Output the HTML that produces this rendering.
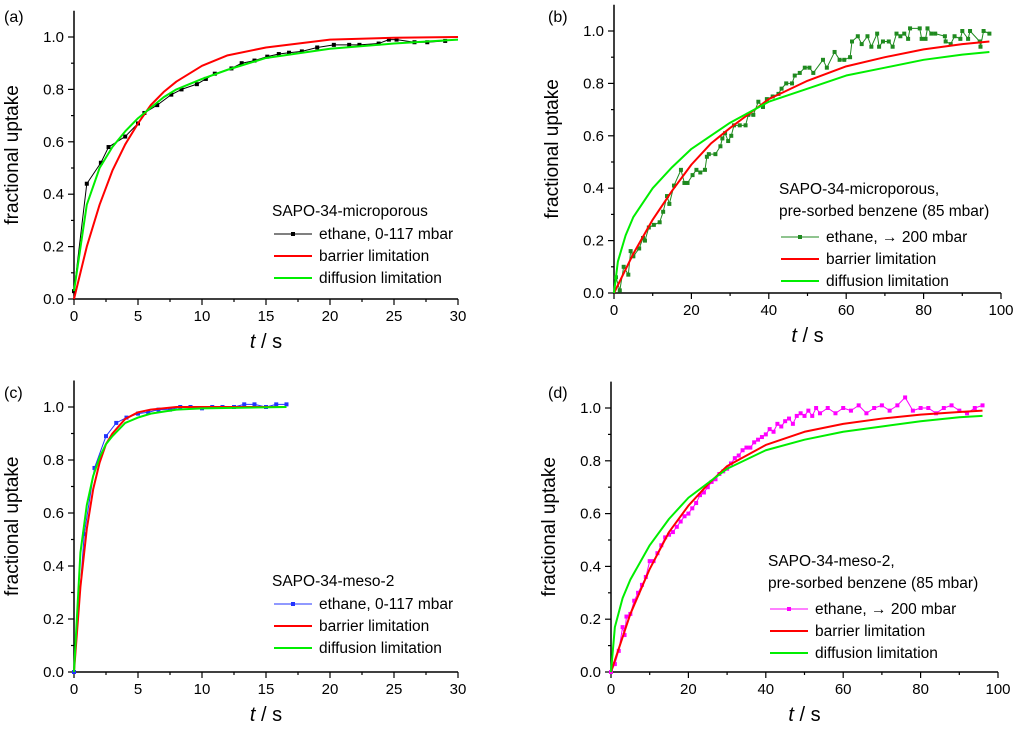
<!DOCTYPE html>
<html><head><meta charset="utf-8"><style>
body{margin:0;background:#fff;width:1024px;height:734px;overflow:hidden}
svg{font-family:"Liberation Sans",Arial,sans-serif}
</style></head><body>
<svg id="fig" width="1024" height="734" viewBox="0 0 1024 734" xmlns="http://www.w3.org/2000/svg"></svg>
<script>
// Panel (a)
const aDataT=[0,1,2.1,2.7,4,5,5.5,6.5,7.6,8.4,9.6,10.3,11,12.3,13.1,14.1,15.1,16,16.8,17.8,19,20.3,21.5,22.3,23.8,24.6,25.2,26.6,27.6,29];
const aDataY=[0.03,0.44,0.52,0.58,0.62,0.67,0.71,0.74,0.78,0.80,0.82,0.84,0.86,0.88,0.90,0.91,0.925,0.935,0.94,0.945,0.96,0.97,0.97,0.97,0.975,0.99,0.99,0.98,0.98,0.985];
const aFitT=[0,1,2,3,4,5,6,7,8,10,12,15,20,25,30];
const aRedY=[0,0.20,0.36,0.49,0.59,0.67,0.74,0.79,0.83,0.89,0.93,0.96,0.99,0.997,1.0];
const aGreenY=[0.03,0.36,0.50,0.58,0.64,0.69,0.73,0.77,0.80,0.84,0.875,0.92,0.955,0.975,0.99];
// Panel (b)
const bDataT=[0.5,1.5,2.5,3.7,4.3,5,6.5,7.5,8,9,10.3,11.8,12.7,13.7,14.3,15.5,17.3,18.2,19,20.3,21.3,22.3,23.5,24,24.5,26.2,27.5,28,28.7,29.5,30.3,31,32.5,34,34.7,36,37.3,38.5,39.5,41,42.5,43.3,44.5,46,46.7,48,49.3,50.5,51.5,54,55,57,58.3,59.5,61,61.5,63,64,65.5,66.5,68,68.5,69.5,71,72,73,74,75,76,76.5,79,79.5,80.5,81,82,83,85.5,85.7,87,88,89.5,90,91.5,92,94.5,94.7,95.5,97];
const bDataY=[0.06,0.01,0.1,0.07,0.16,0.14,0.17,0.21,0.2,0.25,0.26,0.27,0.31,0.37,0.34,0.41,0.47,0.42,0.42,0.45,0.47,0.46,0.47,0.52,0.53,0.53,0.56,0.59,0.61,0.58,0.6,0.64,0.64,0.64,0.68,0.68,0.73,0.71,0.74,0.75,0.76,0.78,0.8,0.8,0.83,0.84,0.86,0.86,0.84,0.89,0.86,0.92,0.89,0.89,0.9,0.96,0.98,0.95,0.98,0.94,0.99,0.94,0.96,0.96,0.94,0.99,0.98,0.99,0.97,1.01,1.01,0.97,0.97,1.01,0.99,0.99,0.98,0.96,0.95,0.98,0.97,1.0,0.97,1.0,0.96,0.94,1.0,0.99];
const bRedT=[0,5,10,15,20,25,30,40,50,60,70,80,90,97];
const bRedY=[0,0.15,0.28,0.39,0.49,0.57,0.63,0.74,0.81,0.865,0.90,0.93,0.95,0.96];
const bGreenT=[0,1,3,5,10,15,20,30,40,50,60,70,80,90,97];
const bGreenY=[0,0.12,0.22,0.29,0.40,0.48,0.55,0.65,0.73,0.78,0.83,0.86,0.89,0.91,0.92];
// Panel (c)
const cDataT=[0,0.8,1.6,2.5,3.3,4.1,5,5.8,6.6,7.5,8.3,9.1,10,10.8,11.6,12.5,13.3,14.1,15,15.8,16.6];
const cDataY=[0,0.52,0.77,0.89,0.94,0.96,0.975,0.98,0.99,0.99,1.0,1.0,0.995,1.0,1.0,1.0,1.01,1.01,1.0,1.01,1.01];
const cFitT=[0,0.5,1,1.5,2,2.5,3,4,5,6,8,10,16.6];
const cRedY=[0,0.32,0.54,0.69,0.79,0.86,0.90,0.955,0.98,0.99,1,1,1];
const cGreenY=[0,0.45,0.63,0.74,0.81,0.86,0.89,0.94,0.96,0.975,0.99,0.995,1.0];
// Panel (d)
const dDataT=[0,1,2,3,3.5,4,5,6,7,8,9,10,11,12,13,14,15,16,17,18,19,20,21,22,23,24,25,26,27,28,29,30,31,32,33,34,35,36,37,38,39,40,41,42,43,44,45,46,47,48,49,50,51,52,53,54,56,58,60,62,64,66,68,70,72,74,76,78,80,82,84,86,88,90,92,94,96];
const dDataY=[0,0.03,0.08,0.17,0.14,0.21,0.22,0.27,0.3,0.33,0.36,0.42,0.42,0.45,0.48,0.51,0.52,0.53,0.55,0.57,0.59,0.6,0.62,0.64,0.67,0.68,0.7,0.72,0.73,0.75,0.76,0.77,0.79,0.81,0.82,0.84,0.85,0.85,0.87,0.88,0.89,0.9,0.92,0.91,0.94,0.93,0.95,0.96,0.94,0.97,0.98,0.97,0.99,0.97,1.0,0.98,1.0,0.98,1.0,0.99,1.01,0.98,1.0,1.01,0.99,1.01,1.04,0.99,1.0,1.0,0.98,1.0,1.01,0.99,0.98,1.0,1.01];
const dRedT=[0,5,10,15,20,25,30,40,50,60,70,80,90,96];
const dRedY=[0,0.22,0.39,0.53,0.63,0.71,0.78,0.86,0.91,0.94,0.96,0.975,0.985,0.99];
const dGreenT=[0,1,3,5,10,15,20,30,40,50,60,70,80,90,96];
const dGreenY=[0,0.17,0.28,0.35,0.48,0.58,0.66,0.77,0.84,0.88,0.91,0.93,0.95,0.965,0.97];
const yTicks=["0.0","0.2","0.4","0.6","0.8","1.0"];
const xTicksA=["0","5","10","15","20","25","30"];
const xTicksB=["0","20","40","60","80","100"];

const NS="http://www.w3.org/2000/svg";
const svg=document.getElementById('fig');
function mk(tag,attrs,parent){const e=document.createElementNS(NS,tag);for(const k in attrs)e.setAttribute(k,attrs[k]);(parent||svg).appendChild(e);return e;}

function panel(p){
  const g=mk('g',{});
  
  
  const X=v=>p.x0+(v-0)/(p.xmax)*(p.x1-p.x0);
  const Y=v=>p.y0-(v)*(p.y0-p.y1);
  const top=Y(1.1);
  const ax=mk('path',{d:`M${p.x0},${top}V${p.y0}H${p.x1}`,fill:'none',stroke:'#000','stroke-width':1.5},g);
  
  
  for(let i=0;i<=10;i++){const v=i*0.1;const y=Y(v);mk('line',{x1:p.x0,x2:p.x0-(i%2?3:6),y1:y,y2:y,stroke:'#000','stroke-width':1.2},g);}
  yTicks.forEach((t,i)=>{const tx=mk('text',{x:p.x0-10,y:Y(i*0.2)+5,'text-anchor':'end','font-size':15},g);tx.textContent=t;
    
    });
  const n=p.xt.length-1;
  for(let i=0;i<=2*n;i++){const x=X(i*p.xmax/(2*n));mk('line',{x1:x,x2:x,y1:p.y0,y2:p.y0+(i%2?3:6),stroke:'#000','stroke-width':1.2},g);}
  p.xt.forEach((t,i)=>{const tx=mk('text',{x:X(i*p.xmax/n),y:p.y0+22,'text-anchor':'middle','font-size':15},g);tx.textContent=t;
    
    });
  const yl=mk('text',{x:0,y:0,transform:`translate(${p.x0-56},${Y(0.55)}) rotate(-90)`,'text-anchor':'middle','font-size':19},g);
  yl.textContent='fractional uptake';
  
  
  const xl=mk('text',{x:(p.x0+p.x1)/2,y:p.y0+49,'text-anchor':'middle','font-size':20},g);
  xl.innerHTML='<tspan font-style="italic">t</tspan>  /  s';
  
  
  const lt=mk('text',{x:p.lx,y:p.ly,'font-size':16},g);lt.textContent='('+p.id+')';
  
  
  const line=(T,V,c,w,name)=>{const pl=mk('polyline',{points:T.map((t,i)=>X(t)+','+Y(V[i])).join(' '),fill:'none',stroke:c,'stroke-width':w,'stroke-linejoin':'round'},g);
    
    };
  line(p.dT,p.dY,p.dc,1,'data-line');
  p.dT.forEach((t,i)=>{const r=mk('rect',{x:X(t)-2,y:Y(p.dY[i])-2,width:4,height:4,fill:p.dc},g);
    
    });
  line(p.rT,p.rY,'#ff0000',2,'barrier-fit-line');
  line(p.gT,p.gY,'#00ee00',2,'diffusion-fit-line');
  const L=mk('g',{},g);
  
  
  p.title.forEach((s,i)=>{const t=mk('text',{x:p.gx-2,y:p.gy+i*22,'font-size':15.5},L);t.textContent=s;});
  const base=p.gy+(p.title.length-1)*22;
  const gap=p.title.length>1?26:23;
  const ents=[[p.dc,p.dlabel,1],['#ff0000','barrier limitation',2],['#00ee00','diffusion limitation',2]];
  ents.forEach((e,i)=>{const y=base+gap+i*22;const lw=38;
    mk('line',{x1:p.gx,x2:p.gx+lw,y1:y-5,y2:y-5,stroke:e[0],'stroke-width':e[2]},L);
    if(i==0)mk('rect',{x:p.gx+lw/2-2,y:y-7,width:4,height:4,fill:e[0]},L);
    const t=mk('text',{x:p.gx+lw+7,y:y,'font-size':15.5},L);t.textContent=e[1];
    
    });
}
panel({id:'a',x0:74,x1:458,y0:299,y1:37,xmax:30,xt:xTicksA,lx:4,ly:22,dT:aDataT,dY:aDataY,dc:'#000',rT:aFitT,rY:aRedY,gT:aFitT,gY:aGreenY,title:['SAPO-34-microporous'],gx:274,gy:216,dlabel:'ethane, 0-117 mbar'});
panel({id:'b',x0:614,x1:1001,y0:293,y1:31,xmax:100,xt:xTicksB,lx:548,ly:22,dT:bDataT,dY:bDataY,dc:'#1f8a1f',rT:bRedT,rY:bRedY,gT:bGreenT,gY:bGreenY,title:['SAPO-34-microporous,','pre-sorbed benzene (85 mbar)'],gx:781,gy:194,dlabel:'ethane, \u2192 200 mbar'});
panel({id:'c',x0:74,x1:458,y0:672,y1:407,xmax:30,xt:xTicksA,lx:4,ly:398,dT:cDataT,dY:cDataY,dc:'#2233ff',rT:cFitT,rY:cRedY,gT:cFitT,gY:cGreenY,title:['SAPO-34-meso-2'],gx:274,gy:586,dlabel:'ethane, 0-117 mbar'});
panel({id:'d',x0:611,x1:998,y0:672,y1:408,xmax:100,xt:xTicksB,lx:548,ly:398,dT:dDataT,dY:dDataY,dc:'#ff00ff',rT:dRedT,rY:dRedY,gT:dGreenT,gY:dGreenY,title:['SAPO-34-meso-2,','pre-sorbed benzene (85 mbar)'],gx:770,gy:566,dlabel:'ethane, \u2192 200 mbar'});
</script>
</body></html>
